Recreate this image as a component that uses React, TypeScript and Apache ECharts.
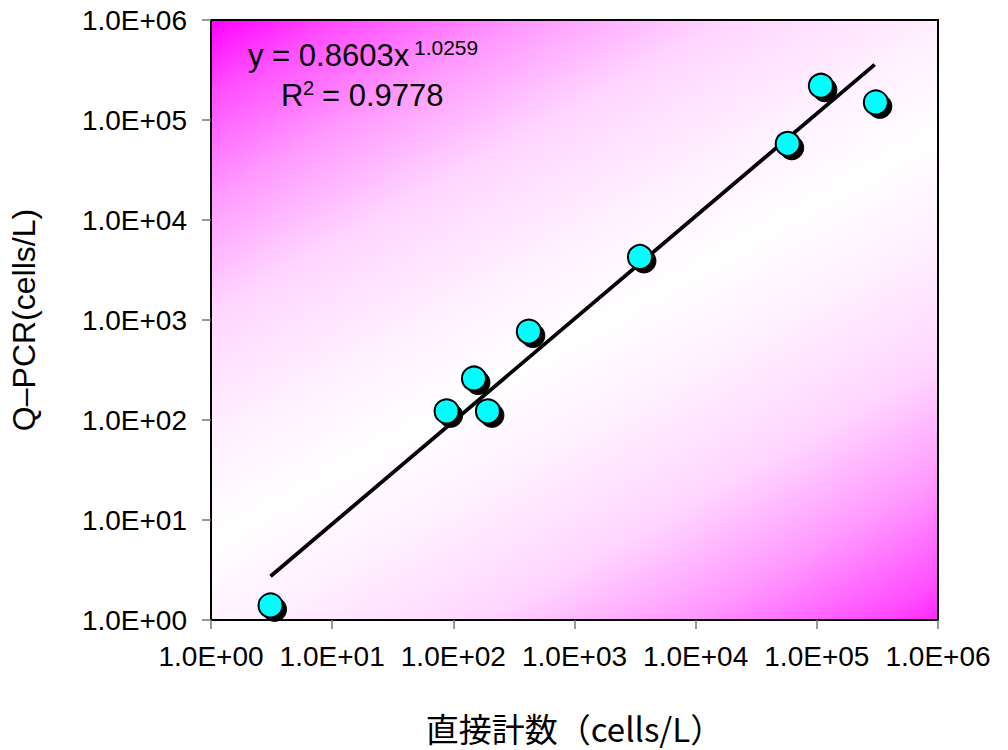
import React, { useEffect, useRef } from "react";
import * as echarts from "echarts";

const directCount = [3.1, 88, 148, 193, 420, 3470, 57500, 108000, 307000];
const qpcr = [1.4, 122, 260, 122, 766, 4270, 57800, 220000, 150000];
const trendX = [3.1, 300000];
const trendY = [2.74, 358000];

const fmt = (v: number) => {
  const e = Math.round(Math.log10(v));
  return "1.0E+" + (e < 10 ? "0" + e : String(e));
};

export default function App() {
  const ref = useRef<HTMLDivElement>(null);
  useEffect(() => {
    document.body.style.margin = "0";
    const chart = echarts.init(ref.current!, undefined, { renderer: "svg" });
    const pts = directCount.map((x, i) => [x, qpcr[i]]);
    const trend = trendX.map((x, i) => [x, trendY[i]]);
    const latin = "'Liberation Sans', Arial, sans-serif";
    const cjk = "'Noto Sans CJK JP', sans-serif";
    chart.setOption({
      animation: false,
      grid: {
        left: 211,
        top: 20,
        right: 70,
        bottom: 130,
        show: true,
        borderColor: "#000",
        borderWidth: 2,
        backgroundColor: new echarts.graphic.LinearGradient(0, 0, 0.81, 1.19, [
          { offset: 0, color: "#ff00ff" },
          { offset: 0.07, color: "#ff4dff" },
          { offset: 0.17, color: "#ff99ff" },
          { offset: 0.28, color: "#ffd6ff" },
          { offset: 0.4, color: "#fff0ff" },
          { offset: 0.5, color: "#ffffff" },
          { offset: 0.6, color: "#fff0ff" },
          { offset: 0.72, color: "#ffd6ff" },
          { offset: 0.83, color: "#ff99ff" },
          { offset: 0.93, color: "#ff4dff" },
          { offset: 1, color: "#ff00ff" },
        ]),
      },
      xAxis: {
        type: "log",
        logBase: 10,
        min: 1,
        max: 1000000,
        name: "直接計数（cells/L）",
        nameLocation: "middle",
        nameGap: 91,
        nameTextStyle: { fontSize: 33, color: "#000", fontFamily: cjk },
        axisLine: { show: true, lineStyle: { color: "#000", width: 2 } },
        axisTick: { show: true, inside: false, length: 9, lineStyle: { color: "#777", width: 1.5 } },
        minorTick: { show: false },
        splitLine: { show: false },
        axisLabel: { formatter: fmt, fontSize: 28, color: "#000", margin: 22, fontFamily: latin },
      },
      yAxis: {
        type: "log",
        logBase: 10,
        min: 1,
        max: 1000000,
        name: "Q–PCR(cells/L)",
        nameLocation: "middle",
        nameGap: 171,
        nameTextStyle: { fontSize: 32, color: "#000", fontFamily: latin },
        axisLine: { show: true, lineStyle: { color: "#000", width: 2 } },
        axisTick: { show: true, inside: false, length: 9, lineStyle: { color: "#777", width: 1.5 } },
        minorTick: { show: false },
        splitLine: { show: false },
        axisLabel: { formatter: fmt, fontSize: 28, color: "#000", margin: 24, fontFamily: latin },
      },
      series: [
        {
          type: "line",
          data: trend,
          symbol: "none",
          lineStyle: { color: "#000", width: 3.8 },
          z: 2,
        },
        {
          type: "scatter",
          data: pts,
          symbol: "circle",
          symbolSize: 24,
          symbolOffset: [4, 4],
          itemStyle: { color: "#000", borderColor: "#000", borderWidth: 1, opacity: 1 },
          z: 3,
        },
        {
          type: "scatter",
          data: pts,
          symbol: "circle",
          symbolSize: 24,
          itemStyle: { color: "#00ffff", borderColor: "#000", borderWidth: 2, opacity: 1 },
          z: 4,
        },
      ],
      graphic: [
        {
          type: "text",
          left: 248,
          top: 40,
          z: 10,
          style: { text: "y = 0.8603x", fontSize: 31, fill: "#000", fontFamily: latin },
        },
        {
          type: "text",
          left: 414,
          top: 37,
          z: 10,
          style: { text: "1.0259", fontSize: 21, fill: "#000", fontFamily: latin },
        },
        {
          type: "text",
          left: 281,
          top: 80,
          z: 10,
          style: { text: "R", fontSize: 31, fill: "#000", fontFamily: latin },
        },
        {
          type: "text",
          left: 303,
          top: 78,
          z: 10,
          style: { text: "2", fontSize: 20, fill: "#000", fontFamily: latin },
        },
        {
          type: "text",
          left: 322,
          top: 80,
          z: 10,
          style: { text: "= 0.9778", fontSize: 31, fill: "#000", fontFamily: latin },
        },
      ],
    });
    return () => chart.dispose();
  }, []);
  return <div ref={ref} style={{ width: 1008, height: 750 }} />;
}
